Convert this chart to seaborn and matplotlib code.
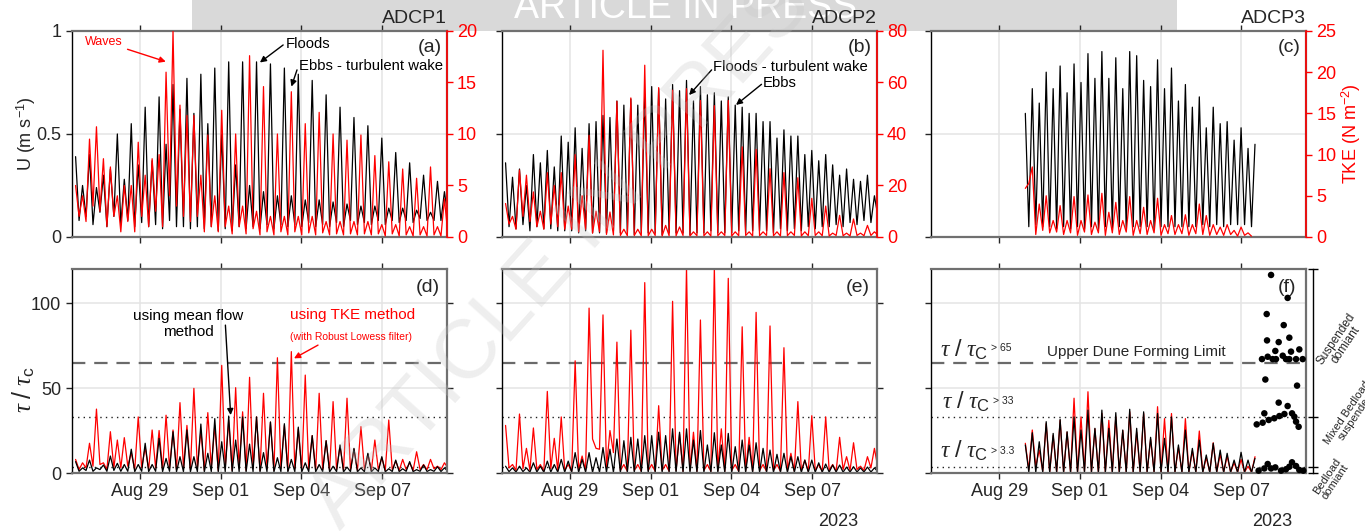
import numpy as np
import pandas as pd
import matplotlib
matplotlib.use("Agg")
import matplotlib.pyplot as plt
import matplotlib.dates as mdates
from matplotlib.patches import Rectangle
import seaborn as sns

# ---------------------------------------------------------------------------
# Time base: successive current peaks are one half tidal cycle (~6.21 h) apart,
# slack minima fall half-way between them.
# ---------------------------------------------------------------------------
first_peak = pd.Timestamp("2023-08-26 14:30")
quarter_hours = 3.105
x_start = pd.Timestamp("2023-08-26 11:00")
x_end = pd.Timestamp("2023-09-09 09:35")
date_ticks = ["2023-08-29", "2023-09-01", "2023-09-04", "2023-09-07"]

# ---------------- ADCP1 : speed (m/s) and TKE (N m-2), half-cycles 0..53 -----
u1_peaks = [0.39, 0.25, 0.40, 0.24, 0.30, 0.33, 0.50, 0.28, 0.55, 0.35,
            0.63, 0.37, 0.68, 0.45, 0.74, 0.62, 0.77, 0.60, 0.79, 0.55,
            0.82, 0.50, 0.85, 0.35, 0.85, 0.25, 0.85, 0.22, 0.84, 0.20,
            0.82, 0.20, 0.79, 0.18, 0.76, 0.18, 0.69, 0.17, 0.63, 0.16,
            0.58, 0.15, 0.54, 0.15, 0.48, 0.14, 0.41, 0.14, 0.36, 0.13,
            0.30, 0.12, 0.27, 0.22]
u1_slack = [0.08, 0.10, 0.06, 0.12, 0.05, 0.10, 0.06, 0.08, 0.05, 0.07,
            0.05, 0.06, 0.04, 0.08, 0.05, 0.05, 0.04, 0.05, 0.04, 0.05,
            0.03, 0.04, 0.03, 0.05, 0.04, 0.05, 0.04, 0.06, 0.04, 0.06,
            0.05, 0.06, 0.05, 0.07, 0.05, 0.06, 0.05, 0.07, 0.05, 0.08,
            0.06, 0.07, 0.06, 0.08, 0.06, 0.08, 0.07, 0.08, 0.07, 0.09,
            0.08, 0.08, 0.08, 0.10]
tke1_peaks = [5, 4, 9.5, 10.7, 7.6, 6.8, 4, 5, 5, 9.2,
              6, 7.6, 8, 16, 20, 12.8, 11.8, 11.8, 6, 9.9,
              4, 12.3, 3, 10, 3, 17.6, 2.5, 14.6, 2, 10,
              2, 14.1, 2, 11, 2, 12.1, 1.5, 10, 1.5, 9.4,
              1.5, 9.9, 1.5, 7.9, 1.2, 7.3, 1.2, 6.6, 1, 5.7,
              1, 6.8, 1, 3.7]
tke1_slack = [2, 1.5, 3, 2.5, 1, 2, 0.5, 1.5, 0.5, 2,
              1, 2.5, 1, 4, 3, 2, 1.5, 2, 0.5, 1,
              0.5, 1, 0.3, 1, 0.3, 0.8, 0.2, 0.5, 0.2, 0.5,
              0.2, 0.5, 0.2, 0.4, 0.2, 0.4, 0.2, 0.3, 0.2, 0.3,
              0.2, 0.3, 0.2, 0.3, 0.1, 0.3, 0.1, 0.2, 0.1, 0.2,
              0.1, 0.2, 0.1, 0.2]

# ---------------- ADCP2 -----------------------------------------------------
u2_peaks = [0.36, 0.29, 0.33, 0.25, 0.40, 0.36, 0.42, 0.34, 0.49, 0.46,
            0.53, 0.43, 0.55, 0.56, 0.59, 0.58, 0.66, 0.64, 0.67, 0.64,
            0.69, 0.73, 0.72, 0.67, 0.74, 0.71, 0.76, 0.66, 0.73, 0.69,
            0.70, 0.66, 0.68, 0.64, 0.63, 0.60, 0.60, 0.56, 0.56, 0.48,
            0.52, 0.49, 0.49, 0.40, 0.42, 0.37, 0.40, 0.35, 0.30, 0.33,
            0.28, 0.27, 0.30, 0.20]
u2_slack = [0.05, 0.04, 0.06, 0.03, 0.05, 0.04, 0.04, 0.03, 0.03, 0.03,
            0.02, 0.03, 0.02, 0.02, 0.02, 0.03, 0.02, 0.02, 0.01, 0.02,
            0.02, 0.02, 0.01, 0.02, 0.02, 0.02, 0.01, 0.02, 0.02, 0.03,
            0.02, 0.02, 0.02, 0.03, 0.02, 0.03, 0.03, 0.03, 0.02, 0.04,
            0.03, 0.04, 0.03, 0.05, 0.04, 0.05, 0.05, 0.06, 0.05, 0.07,
            0.06, 0.08, 0.07, 0.10]
tke2_peaks = [13, 8, 26, 24, 17.5, 10, 25, 20, 25, 12,
              32, 16, 39.5, 10, 72.5, 9.7, 52.7, 3, 54, 3,
              66.7, 3, 58, 4.5, 57, 3.9, 57.6, 2, 53, 2,
              51, 2, 53, 2, 35, 2, 34, 2, 26.5, 2,
              25, 2, 23, 2, 15, 2, 12, 1.5, 8.4, 1.5,
              7, 1.5, 4.5, 2]
tke2_slack = [5, 3, 8, 6, 4, 3, 5, 4, 3, 3,
              2, 3, 1.5, 2, 1, 0.8, 0.6, 0.5, 0.6, 0.5,
              0.5, 0.6, 0.4, 0.5, 0.5, 0.6, 0.4, 0.5, 0.5, 0.4,
              0.5, 0.6, 0.4, 0.5, 0.6, 0.4, 0.5, 0.6, 0.5, 0.4,
              0.5, 0.6, 0.4, 0.5, 0.6, 0.5, 0.4, 0.6, 0.5, 0.4,
              0.6, 0.5, 0.6, 0.8]

# ---------------- ADCP3 (record runs from half-cycle 13 to 46) ---------------
adcp3_first = 13
u3_peaks = [0.60, 0.72, 0.65, 0.80, 0.72, 0.83, 0.70, 0.84, 0.75, 0.89,
            0.77, 0.90, 0.77, 0.87, 0.72, 0.90, 0.88, 0.76, 0.73, 0.86,
            0.72, 0.82, 0.66, 0.74, 0.63, 0.68, 0.53, 0.63, 0.55, 0.56,
            0.47, 0.53, 0.43, 0.45]
u3_slack = [0.05, 0.06, 0.05, 0.05, 0.04, 0.05, 0.04, 0.05, 0.04, 0.05,
            0.04, 0.05, 0.04, 0.05, 0.04, 0.05, 0.05, 0.05, 0.04, 0.05,
            0.05, 0.05, 0.05, 0.05, 0.05, 0.06, 0.05, 0.06, 0.05, 0.06,
            0.06, 0.06, 0.05]
tke3_peaks = [5.9, 8.5, 4, 5, 2, 3.8, 2, 4.9, 2, 5.1,
              1.8, 5.3, 3, 4.2, 2, 4.9, 2, 3.6, 2, 4.7,
              1.5, 2.6, 1.5, 2.7, 1.5, 4, 2.6, 1.5, 1.2, 1.5,
              0.8, 1.2, 0.5]
tke3_slack = [6.5, 0.3, 0.8, 0.5, 0.6, 0.3, 0.5, 0.2, 0.6, 0.3,
              0.5, 0.2, 0.5, 0.3, 0.6, 0.2, 0.4, 0.3, 0.5, 0.2,
              0.4, 0.3, 0.4, 0.2, 0.4, 0.3, 0.2, 0.3, 0.2, 0.3,
              0.1, 0.2, 0.1]

# ---------------- tau / tau_c, ADCP1 ----------------------------------------
mf1_peaks = [6.7, 3, 7.6, 3, 4.7, 10, 5.7, 5, 14, 5,
             17.5, 5, 20.4, 8.6, 24.3, 9.6, 25.3, 9.6, 28.8, 11.6,
             32, 18.4, 33.5, 19.4, 33, 17, 33, 12, 30, 9,
             29, 8, 27, 6, 22, 5, 19, 4, 16.5, 3.5,
             14.5, 3, 11.6, 3, 9.6, 2.5, 7.6, 2.5, 6.7, 2,
             4.7, 2, 3.7, 3]
mf1_slack = [1, 1.5, 1, 2, 1, 1.5, 1, 1, 0.8, 1,
             0.8, 1, 0.8, 1, 0.7, 0.8, 0.7, 0.8, 0.6, 0.8,
             0.6, 0.8, 0.6, 0.8, 0.6, 0.8, 0.6, 0.8, 0.6, 0.8,
             0.6, 0.8, 0.6, 0.8, 0.6, 0.8, 0.6, 0.8, 0.6, 0.8,
             0.7, 0.8, 0.7, 0.9, 0.7, 0.9, 0.8, 1, 0.8, 1,
             0.9, 1, 0.9, 1]
tk1_peaks = [8, 6, 17.5, 37.6, 6, 24.3, 19.4, 20.8, 12, 33,
             15, 25.3, 25, 34, 25.3, 41.4, 28, 49.8, 25, 35.5,
             28, 63.3, 31, 50.2, 36, 56.3, 33, 46.9, 30, 67.8,
             28, 71.4, 26, 57.6, 22, 46.9, 19, 42, 16, 44,
             14, 27.3, 11, 19.4, 9, 31.2, 7, 8, 6, 12.5,
             5, 8, 4, 6]
tk1_slack = [2, 3, 4, 5, 2, 3, 3, 4, 2, 3,
             2, 3, 2, 3, 2, 3, 2, 3, 1.5, 3,
             1.5, 3, 1.5, 3, 1.5, 3, 1.5, 2.5, 1.5, 2.5,
             1.5, 2.5, 1.5, 2.5, 1.5, 2, 1.5, 2, 1.5, 2,
             1.5, 2, 1.5, 2, 1.5, 2, 1.5, 2, 1.5, 2,
             2, 2.5, 2, 3]

# ---------------- tau / tau_c, ADCP2 ----------------------------------------
mf2_peaks = [4, 3, 4, 3, 6, 4, 7, 5, 8, 7,
             12, 8, 12, 9, 15, 14, 20, 19, 21, 20,
             22, 22, 24, 22, 26, 24, 26, 19.4, 25, 16.5,
             23.7, 16.5, 23.3, 15.5, 19.4, 16.5, 17.8, 14.5, 13.5, 11,
             11.6, 9.6, 9.6, 7.6, 7.6, 6, 5.3, 4.7, 4.7, 3.5,
             3.7, 3, 3.5, 3]
mf2_slack = [0.8, 0.6, 0.8, 0.5, 0.6, 0.5, 0.6, 0.5, 0.5, 0.5,
             0.4, 0.5, 0.4, 0.5, 0.4, 0.4, 0.3, 0.4, 0.3, 0.4,
             0.3, 0.4, 0.3, 0.4, 0.3, 0.4, 0.3, 0.4, 0.3, 0.4,
             0.3, 0.4, 0.3, 0.4, 0.3, 0.4, 0.4, 0.4, 0.4, 0.5,
             0.4, 0.5, 0.4, 0.5, 0.5, 0.5, 0.5, 0.6, 0.5, 0.6,
             0.6, 0.6, 0.6, 0.8]
tk2_peaks = [28, 5, 34.7, 14.5, 26.5, 5, 48, 20.4, 33, 5,
             66, 10, 97, 14.5, 93, 25, 77, 5, 84, 5,
             112, 5, 39.6, 5, 101, 23, 121, 24, 90, 5,
             121, 26, 114.5, 5, 86, 21, 94.5, 5, 86.5, 5,
             73.7, 11.6, 42, 7.6, 33.7, 5, 33, 5, 21, 9.6,
             17.8, 4, 9.6, 14.5]
tk2_slack = [3, 1.5, 2.5, 1.5, 2, 1, 2.5, 1.5, 1.5, 1,
             2, 1.5, 20, 14, 3, 12, 1.5, 1, 1.5, 1,
             1.5, 1, 1.5, 1, 1.5, 1, 1.5, 1, 1.5, 1,
             1.5, 1, 1.5, 1, 1.5, 1, 1.5, 1, 1.5, 1,
             1.5, 1, 1.5, 1, 1.5, 1, 1.5, 1, 2, 1.5,
             2, 1.5, 3, 3]

# ---------------- tau / tau_c, ADCP3 ----------------------------------------
mf3_peaks = [16.5, 23.7, 18.4, 30.2, 23.3, 31.6, 24.3, 33, 25.3, 37,
             26.3, 37, 26.3, 35.5, 25.3, 37.5, 26.3, 36, 21, 35,
             20.4, 33, 16.5, 25.3, 14.5, 19.4, 10.6, 17.5, 13.5, 11.6,
             7.6, 12.2, 7.6, 8.6]
mf3_slack = [0.5, 0.3, 0.4, 0.3, 0.3, 0.3, 0.3, 0.3, 0.3, 0.3,
             0.3, 0.3, 0.3, 0.3, 0.3, 0.3, 0.3, 0.3, 0.3, 0.3,
             0.3, 0.3, 0.3, 0.3, 0.3, 0.3, 0.3, 0.4, 0.3, 0.4,
             0.3, 0.4, 0.3]
tk3_peaks = [17.5, 25.3, 13.5, 29, 22, 31, 24, 44, 33, 47.8,
             26, 35, 31, 33, 25, 36, 24, 35, 20, 39,
             32, 35, 15, 32, 13, 24.7, 9, 17.8, 11, 10,
             6, 8, 4, 9.6]
tk3_slack = [2, 4, 1, 0.5, 0.5, 0.5, 0.5, 0.5, 1, 0.5,
             0.5, 0.5, 0.5, 0.5, 0.5, 0.5, 0.5, 0.5, 0.5, 0.5,
             0.5, 0.5, 0.5, 0.5, 0.5, 0.5, 0.5, 0.5, 0.5, 0.5,
             0.5, 0.5, 0.5]

# regime estimates for ADCP3 (hours after 7 Sep 00:00, tau / tau_c)
regime_day = pd.Timestamp("2023-09-07 00:00")
suspended_hours = [18.4, 21.4, 22.6, 22.9, 23.5, 26.5, 27.9, 30.3, 30.9, 33.3,
                   36.9, 37.8, 39.8, 41.3, 42.8, 42.8, 44.3, 48.8, 49.7, 51.7, 54.7]
suspended_tau = [67, 55, 93.5, 78, 68.4, 116.5, 67, 71.8, 67, 77,
                 69, 87, 67, 103, 79.6, 67, 71.4, 67, 51.4, 72.7, 67]
mixed_hours = [13.7, 19.0, 20.5, 24.4, 29.4, 33.3, 33.9, 38.4, 41.3, 45.2, 47.3, 48.8, 51.1]
mixed_tau = [28.6, 29.6, 35.1, 31.2, 32.2, 41.4, 33.5, 34.7, 39.4, 35.1, 33.1, 30.2, 27.2]
bedload_hours = [15.4, 20.5, 23.5, 26.5, 30.3, 35.4, 39.8, 42.8, 45.2, 48.8, 51.7, 55.3]
bedload_tau = [1.4, 2.7, 5.3, 2.7, 3.3, 1.4, 2.2, 3.7, 6.3, 4.1, 1.8, 1.4]

# reference thresholds of tau / tau_c
upper_dune = 65
mixed_limit = 33
bedload_limit = 3.3

panel_titles = ["ADCP1", "ADCP2", "ADCP3"]
top_tags = ["(a)", "(b)", "(c)"]
bottom_tags = ["(d)", "(e)", "(f)"]
tke_limits = [20, 80, 25]
tke_ticks = [[0, 5, 10, 15, 20], [0, 20, 40, 60, 80], [0, 5, 10, 15, 20, 25]]


def tidal_trace(k_first, peaks, slack):
    """Alternate peak and slack values, each a quarter tidal cycle apart."""
    vals = []
    for p, s in zip(peaks, slack):
        vals += [p, s]
    if len(peaks) > len(slack):
        vals.append(peaks[len(slack)])
    steps = 2 * k_first + np.arange(len(vals))
    times = first_peak + pd.to_timedelta(steps * quarter_hours, unit="h")
    return pd.DataFrame({"time": times, "value": vals})


# ---------------------------------------------------------------------------
sns.set_theme(style="white")
plt.rcParams["font.family"] = ["Liberation Sans", "DejaVu Sans"]
plt.rcParams["mathtext.fontset"] = "custom"
plt.rcParams["mathtext.rm"] = "Liberation Sans"
plt.rcParams["mathtext.it"] = "Liberation Serif:italic"
plt.rcParams["mathtext.bf"] = "Liberation Sans:bold"

TXT = "#262626"
SPINE = "#707070"
GRID = "#e4e4e4"
RED = "#ff0000"

fig = plt.figure(figsize=(13.65, 5.31), dpi=100)
lefts = [0.0525, 0.3675, 0.682]
W = 0.2747
top_axes = [fig.add_axes([l, 0.5537, W, 0.388]) for l in lefts]
bot_axes = [fig.add_axes([l, 0.1092, W, 0.3842]) for l in lefts]


def frame(ax, right_ticks=True):
    for s in ("top", "bottom", "right"):
        ax.spines[s].set_color(SPINE)
        ax.spines[s].set_linewidth(1.6)
    ax.spines["left"].set_color("black")
    ax.spines["left"].set_linewidth(1.0)
    ax.grid(True, color=GRID, linewidth=1.1)
    ax.set_axisbelow(True)
    ax.tick_params(direction="out", length=4, width=1, colors=TXT, labelsize=13,
                   top=True, right=right_ticks, bottom=True, left=True)
    ax.set_xlim(x_start, x_end)
    ax.set_xticks(pd.to_datetime(date_ticks))
    ax.xaxis.set_major_formatter(mdates.DateFormatter("%b %d"))
    ax.set_xlabel("")
    ax.set_ylabel("")


def line(ax, df, color, lw=0.9):
    sns.lineplot(data=df, x="time", y="value", ax=ax, color=color, linewidth=lw,
                 estimator=None, sort=False, legend=False)


# ------------------------------ top row -------------------------------------
speed_sets = [(0, u1_peaks, u1_slack), (0, u2_peaks, u2_slack), (adcp3_first, u3_peaks, u3_slack)]
tke_sets = [(0, tke1_peaks, tke1_slack), (0, tke2_peaks, tke2_slack), (adcp3_first, tke3_peaks, tke3_slack)]

for i, ax in enumerate(top_axes):
    k0, pk, sl = speed_sets[i]
    line(ax, tidal_trace(k0, pk, sl), "black")
    tw = ax.twinx()
    k0, pk, sl = tke_sets[i]
    line(tw, tidal_trace(k0, pk, sl), RED)
    frame(ax, right_ticks=False)
    ax.set_ylim(0, 1)
    ax.set_yticks([0, 0.5, 1])
    ax.tick_params(labelbottom=False)
    if i == 0:
        ax.set_yticklabels(["0", "0.5", "1"])
    else:
        ax.tick_params(labelleft=False)
    ax.set_title(panel_titles[i], loc="right", fontsize=14, color=TXT, pad=6)
    tw.set_ylim(0, tke_limits[i])
    tw.set_yticks(tke_ticks[i])
    tw.set_ylabel("")
    tw.grid(False)
    for s in ("top", "bottom", "left"):
        tw.spines[s].set_visible(False)
    tw.spines["right"].set_color(RED)
    tw.spines["right"].set_linewidth(1.2)
    tw.tick_params(axis="y", colors=RED, direction="out", length=4, width=1, labelsize=13)
    ax.text(0.955, 0.92, top_tags[i], transform=ax.transAxes, fontsize=14,
            ha="center", va="center", color=TXT)

# ------------------------------ bottom row ----------------------------------
mean_sets = [(0, mf1_peaks, mf1_slack), (0, mf2_peaks, mf2_slack), (adcp3_first, mf3_peaks, mf3_slack)]
tke_tau_sets = [(0, tk1_peaks, tk1_slack), (0, tk2_peaks, tk2_slack), (adcp3_first, tk3_peaks, tk3_slack)]

for i, ax in enumerate(bot_axes):
    k0, pk, sl = tke_tau_sets[i]
    line(ax, tidal_trace(k0, pk, sl), RED)
    k0, pk, sl = mean_sets[i]
    line(ax, tidal_trace(k0, pk, sl), "black")
    ax.axhline(upper_dune, color="#6a6a6a", linewidth=1.6, linestyle=(0, (6, 4)), zorder=1)
    ax.axhline(mixed_limit, color="#222222", linewidth=1.0, linestyle=(0, (1, 3)), zorder=1)
    ax.axhline(bedload_limit, color="#222222", linewidth=1.0, linestyle=(0, (1, 3)), zorder=1)
    frame(ax)
    ax.set_ylim(0, 120)
    ax.set_yticks([0, 50, 100])
    if i > 0:
        ax.tick_params(labelleft=False)
    ax.text(0.95, 0.91, bottom_tags[i], transform=ax.transAxes, fontsize=14,
            ha="center", va="center", color=TXT)

# regime points on the ADCP3 panel
axf = bot_axes[2]
regimes = pd.DataFrame({
    "time": [regime_day + pd.Timedelta(hours=h) for h in suspended_hours + mixed_hours + bedload_hours],
    "tau": suspended_tau + mixed_tau + bedload_tau,
})
sns.scatterplot(data=regimes, x="time", y="tau", ax=axf, color="black", s=22,
                edgecolor="none", legend=False, zorder=5, clip_on=False)
axf.set_xlabel("")
axf.set_ylabel("")
axf.set_xlim(x_start, x_end)

# regime bracket on the far right of panel (f)
br = axf.twinx()
br.set_ylim(0, 120)
br.set_yticks([0, bedload_limit, mixed_limit, 120])
br.tick_params(axis="y", direction="inout", length=7, width=1, colors="black", labelright=False)
for s in ("top", "bottom", "left"):
    br.spines[s].set_visible(False)
br.spines["right"].set_position(("outward", 5))
br.spines["right"].set_color("black")
br.spines["right"].set_linewidth(1.0)
br.grid(False)

# threshold labels in panel (f)
tau_kw = dict(transform=axf.transAxes, fontsize=17, color=TXT, ha="left", va="baseline")
small_kw = dict(transform=axf.transAxes, fontsize=7.5, color=TXT, ha="left", va="center")
axf.text(0.024, 0.570, r"$\tau\ /\ \tau_{\mathrm{C}}$", **tau_kw)
axf.text(0.160, 0.612, "> 65", **small_kw)
axf.text(0.029, 0.313, r"$\tau\ /\ \tau_{\mathrm{C}}$", **tau_kw)
axf.text(0.165, 0.355, "> 33", **small_kw)
axf.text(0.024, 0.073, r"$\tau\ /\ \tau_{\mathrm{C}}$", **tau_kw)
axf.text(0.160, 0.110, "> 3.3", **small_kw)
axf.text(0.547, 0.593, "Upper Dune Forming Limit", transform=axf.transAxes,
         fontsize=11, color=TXT, ha="center", va="center")

# regime names beside the bracket, written along a rising diagonal
regime_labels = [("Suspended\ndomiant", 1341, 342, 8.5),
                 ("Mixed Bedload-\nsuspended", 1352, 414, 8.0),
                 ("Bedload\ndomiant", 1331, 479, 8.0)]
for label, px, py, fs in regime_labels:
    fig.text(px / 1365, 1 - py / 531, label, rotation=56, fontsize=fs, color=TXT,
             ha="center", va="center", linespacing=1.0)

# ------------------------------ annotations ---------------------------------
arrow_k = dict(arrowstyle="-|>", color="black", lw=1.0, mutation_scale=9, shrinkA=0, shrinkB=0)
arrow_r = dict(arrowstyle="-|>", color=RED, lw=1.0, mutation_scale=9, shrinkA=0, shrinkB=0)

axa, axb, axc = top_axes
axa.text(0.087, 0.944, "Waves", transform=axa.transAxes, fontsize=9, color=RED, ha="center", va="center")
axa.annotate("", xy=(0.251, 0.851), xytext=(0.149, 0.911), xycoords="axes fraction",
             textcoords="axes fraction", arrowprops=arrow_r)
axa.text(0.630, 0.937, "Floods", transform=axa.transAxes, fontsize=10.7, color="black", ha="center", va="center")
axa.annotate("", xy=(0.502, 0.847), xytext=(0.564, 0.932), xycoords="axes fraction",
             textcoords="axes fraction", arrowprops=arrow_k)
axa.text(0.799, 0.832, "Ebbs - turbulent wake", transform=axa.transAxes, fontsize=10.7,
         color="black", ha="center", va="center")
axa.annotate("", xy=(0.586, 0.730), xytext=(0.601, 0.811), xycoords="axes fraction",
             textcoords="axes fraction", arrowprops=arrow_k)

axb.text(0.770, 0.827, "Floods - turbulent wake", transform=axb.transAxes, fontsize=10.7,
         color="black", ha="center", va="center")
axb.annotate("", xy=(0.500, 0.689), xytext=(0.560, 0.811), xycoords="axes fraction",
             textcoords="axes fraction", arrowprops=arrow_k)
axb.text(0.741, 0.746, "Ebbs", transform=axb.transAxes, fontsize=10.7, color="black", ha="center", va="center")
axb.annotate("", xy=(0.625, 0.641), xytext=(0.693, 0.741), xycoords="axes fraction",
             textcoords="axes fraction", arrowprops=arrow_k)

axd = bot_axes[0]
axd.text(0.311, 0.730, "using mean flow\nmethod", transform=axd.transAxes, fontsize=11,
         color="black", ha="center", va="center", linespacing=1.2)
axd.annotate("", xy=(0.424, 0.284), xytext=(0.410, 0.725), xycoords="axes fraction",
             textcoords="axes fraction", arrowprops=arrow_k)
axd.text(0.749, 0.775, "using TKE method", transform=axd.transAxes, fontsize=11,
         color=RED, ha="center", va="center")
axd.text(0.744, 0.667, "(with Robust Lowess filter)", transform=axd.transAxes, fontsize=7.5,
         color=RED, ha="center", va="center")
axd.annotate("", xy=(0.593, 0.562), xytext=(0.657, 0.627), xycoords="axes fraction",
             textcoords="axes fraction", arrowprops=arrow_r)

# ------------------------------ figure labels -------------------------------
fig.text(0.019, 0.748, "U (m s$^{-1}$)", rotation=90, fontsize=13, color=TXT, ha="center", va="center")
fig.text(0.990, 0.748, "TKE (N m$^{-2}$)", rotation=90, fontsize=13, color=RED, ha="center", va="center")
fig.text(0.017, 0.266, r"$\tau\ /\ \tau_{\mathrm{c}}$", rotation=90, fontsize=18, color=TXT,
         ha="center", va="center")
fig.text(0.614, 0.017, "2023", fontsize=13, color=TXT, ha="center", va="center")
fig.text(0.932, 0.017, "2023", fontsize=13, color=TXT, ha="center", va="center")

# preprint banner and diagonal stamp
fig.patches.append(Rectangle((0.1407, 0.9416), 0.7216, 0.0584, transform=fig.transFigure,
                             facecolor="#d9d9d9", edgecolor="none", zorder=-2))
fig.text(0.502, 0.984, "ARTICLE IN PRESS", fontsize=27, color="white", ha="center",
         va="center", zorder=-1)
fig.text(0.249, 0.0, "ARTICLE IN PRESS", fontsize=60, color="#c4c4c4", alpha=0.28,
         rotation=48, rotation_mode="anchor", ha="left", va="baseline", zorder=10)

fig.savefig("out.png", dpi=100)
